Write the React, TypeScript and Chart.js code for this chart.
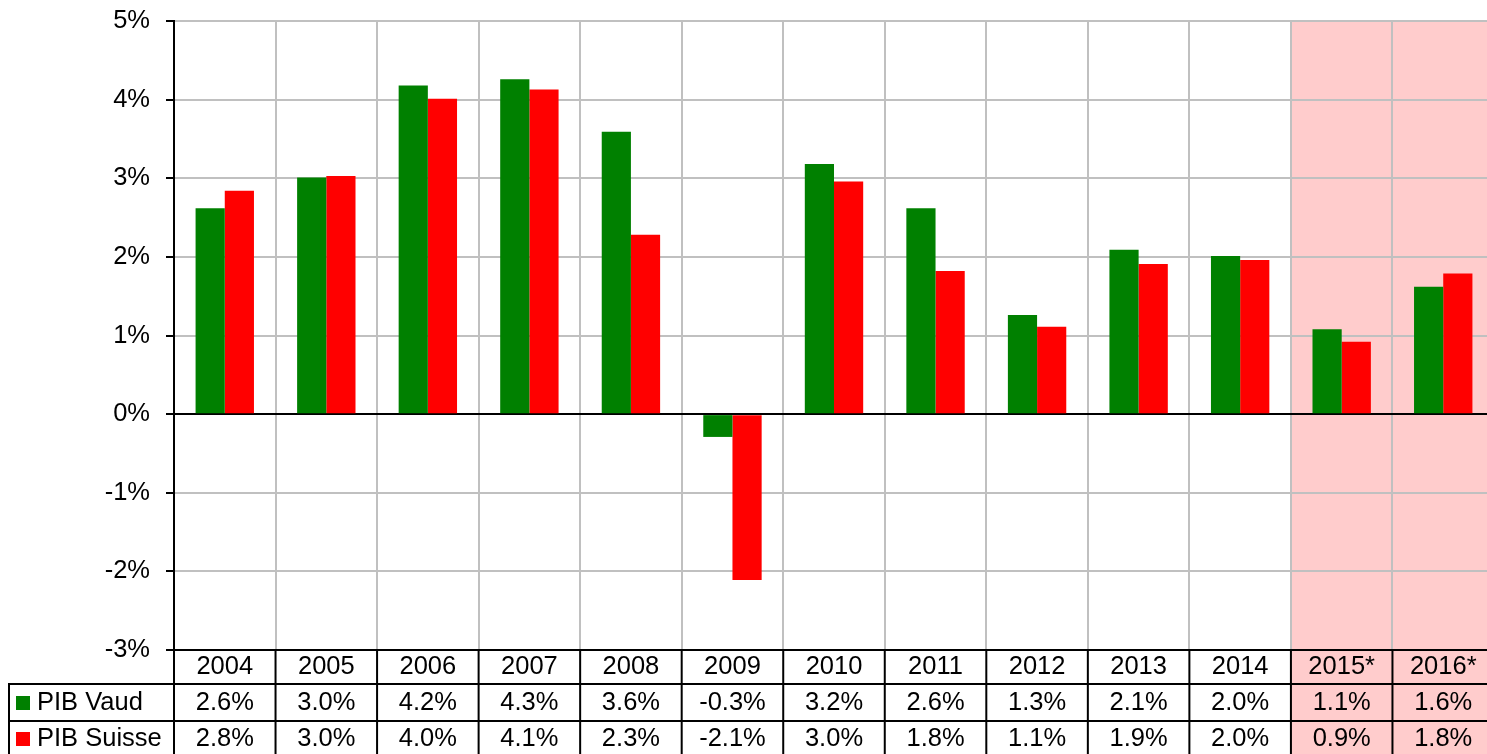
import React, { useEffect, useRef } from "react";
import { Chart, registerables } from "chart.js";

Chart.register(...registerables);

const years = ["2004", "2005", "2006", "2007", "2008", "2009", "2010", "2011", "2012", "2013", "2014", "2015*", "2016*"];
const vaud = [2.62, 3.01, 4.18, 4.26, 3.59, -0.29, 3.18, 2.62, 1.26, 2.09, 2.01, 1.08, 1.62];
const suisse = [2.84, 3.03, 4.01, 4.13, 2.28, -2.11, 2.96, 1.82, 1.11, 1.91, 1.96, 0.92, 1.79];
const forecast = [false, false, false, false, false, false, false, false, false, false, false, true, true];
const seriesNames = ["PIB Vaud", "PIB Suisse"];
const seriesColors = ["#008000", "#FF0000"];

const FONT = "25.5px 'Liberation Sans', Arial, sans-serif";

export default function App() {
  const ref = useRef<HTMLCanvasElement | null>(null);

  useEffect(() => {
    const canvas = ref.current;
    if (!canvas) return;

    const colBounds = (chart: any, i: number) => {
      const xs = chart.scales.x;
      const c = xs.getPixelForValue(i);
      const half = (xs.getPixelForValue(1) - xs.getPixelForValue(0)) / 2;
      return [c - half, c + half, c];
    };

    const shadePlugin = {
      id: "shade",
      beforeDraw(chart: any) {
        const ctx = chart.ctx;
        const top = chart.chartArea.top;
        ctx.save();
        ctx.fillStyle = "#FFCCCC";
        forecast.forEach((f, i) => {
          if (!f) return;
          const [l, r] = colBounds(chart, i);
          ctx.fillRect(l, top, r - l, chart.height - top);
        });
        ctx.restore();
      },
    };

    const tablePlugin = {
      id: "table",
      afterDraw(chart: any) {
        const ctx = chart.ctx;
        const area = chart.chartArea;
        const rowTops = [area.bottom, 684, 721];
        const legendLeft = 9;
        ctx.save();
        ctx.strokeStyle = "#000";
        ctx.lineWidth = 2;
        ctx.beginPath();
        ctx.moveTo(legendLeft - 1, rowTops[1]);
        ctx.lineTo(chart.width, rowTops[1]);
        ctx.moveTo(legendLeft - 1, rowTops[2]);
        ctx.lineTo(chart.width, rowTops[2]);
        ctx.moveTo(legendLeft, rowTops[1]);
        ctx.lineTo(legendLeft, chart.height);
        for (let i = 0; i < years.length; i++) {
          const [l, r] = colBounds(chart, i);
          ctx.moveTo(l, area.bottom);
          ctx.lineTo(l, chart.height);
          ctx.moveTo(r, area.bottom);
          ctx.lineTo(r, chart.height);
        }
        ctx.stroke();

        ctx.fillStyle = "#000";
        ctx.font = FONT;
        ctx.textAlign = "center";
        ctx.textBaseline = "middle";
        const rows = [years, vaud.map((v) => v.toFixed(1) + "%"), suisse.map((v) => v.toFixed(1) + "%")];
        const centers = [667, 703, 739];
        rows.forEach((row, ri) => {
          row.forEach((txt, i) => {
            const [, , c] = colBounds(chart, i);
            ctx.fillText(txt, c, centers[ri]);
          });
        });
        ctx.textAlign = "left";
        seriesNames.forEach((name, si) => {
          const cy = centers[si + 1];
          ctx.fillStyle = seriesColors[si];
          ctx.fillRect(16, cy - 7, 14, 14);
          ctx.fillStyle = "#000";
          ctx.fillText(name, 37, cy);
        });
        ctx.restore();
      },
    };

    const chart = new Chart(canvas, {
      type: "bar",
      data: {
        labels: years,
        datasets: [
          { label: seriesNames[0], data: vaud, backgroundColor: seriesColors[0], borderWidth: 0 },
          { label: seriesNames[1], data: suisse, backgroundColor: seriesColors[1], borderWidth: 0 },
        ],
      },
      options: {
        animation: false,
        responsive: false,
        devicePixelRatio: 1,
        layout: { padding: { top: 21, left: 0, right: 6, bottom: 0 } },
        plugins: {
          legend: { display: false },
          tooltip: { enabled: false },
          title: { display: false },
        },
        datasets: {
          bar: { categoryPercentage: 0.575, barPercentage: 1 },
        },
        scales: {
          x: {
            offset: true,
            ticks: { display: false },
            grid: { display: true, offset: true, color: "#C0C0C0", lineWidth: 2, drawTicks: false },
            border: { display: true, color: "#000", width: 2 },
            afterFit(scale: any) {
              scale.height = 104;
              scale.paddingLeft = 0;
              scale.paddingRight = 0;
            },
          },
          y: {
            min: -3,
            max: 5,
            ticks: {
              stepSize: 1,
              padding: 16,
              color: "#000",
              font: { family: "'Liberation Sans', Arial, sans-serif", size: 25.5 },
              callback: (v: any) => v + "%",
            },
            grid: {
              color: (c: any) => (c.tick && c.tick.value === 0 ? "#000" : "#C0C0C0"),
              lineWidth: 2,
              tickColor: "#000",
              tickLength: 8,
            },
            border: { display: true, color: "#000", width: 2 },
            afterFit(scale: any) {
              scale.width = 174;
              scale.paddingTop = 0;
              scale.paddingBottom = 0;
            },
          },
        },
      },
      plugins: [shadePlugin, tablePlugin],
    });

    return () => chart.destroy();
  }, []);

  return (
    <div style={{ position: "fixed", left: 0, top: 0, width: 1487, height: 754, overflow: "hidden", background: "#fff" }}>
      <canvas ref={ref} width={1500} height={754} style={{ display: "block", width: 1500, height: 754 }} />
    </div>
  );
}
